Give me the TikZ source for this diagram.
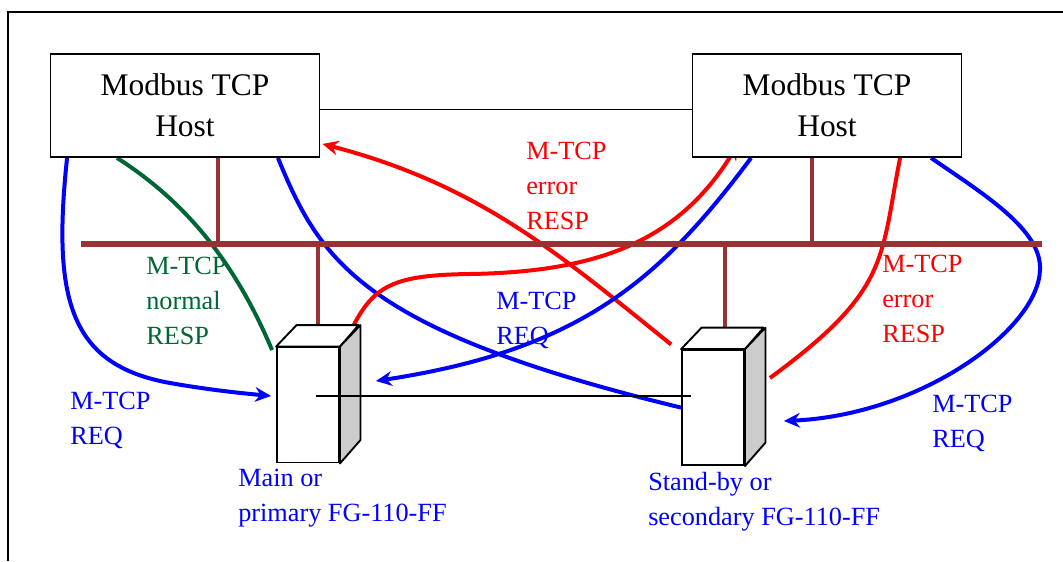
\documentclass[tikz,border=0pt]{standalone}
\usepackage{fontspec}
\setmainfont{Liberation Serif}
\usetikzlibrary{arrows.meta,calc}
\definecolor{busbrown}{RGB}{153,51,51}
\definecolor{respgreen}{RGB}{0,102,51}
\definecolor{sidegray}{RGB}{204,204,204}
\pgfdeclarelayer{back}
\pgfsetlayers{back,main}

\begin{document}
\begin{tikzpicture}[x=0.75pt,y=-0.75pt,
  >={Stealth[length=12pt,width=11pt,inset=4pt]},
  host/.style={draw,line width=1.4pt,fill=white,minimum width=201.75pt,minimum height=77.25pt,inner sep=0pt,align=center,font=\fontsize{23.6}{31}\selectfont},
  front/.style={draw,line width=1.4pt,fill=white,minimum width=46.5pt,minimum height=86.25pt,inner sep=0pt},
  face/.style={draw,line width=1.4pt,line join=round},
  bus/.style={busbrown,line width=4.2pt},
  drop/.style={busbrown,line width=2.6pt},
  msg/.style={line width=3pt},
  lbl/.style={anchor=north west,inner sep=0pt,align=left,font=\fontsize{19.7}{26.25}\selectfont}]

\useasboundingbox (0,0) rectangle (1063,561);
% frame
\draw[line width=1.1pt] (8,561) -- (8,12) -- (1063,12);

% bus
\coordinate (busL) at (81,244);
\coordinate (busR) at (1042,244);
\coordinate (tapA) at (218,244);
\coordinate (tapB) at (812,244);
\coordinate (tapC) at (318,244);
\coordinate (tapD) at (725,244);

% hosts
\node[host] (hostA) at (185,105.5) {Modbus TCP\\Host};
\node[host] (hostB) at (827,105.5) {Modbus TCP\\Host};
\draw[line width=1.1pt] ([yshift=-3pt]hostA.east) -- ([yshift=-3pt]hostB.west);

% gateways
\node[front] (devA) at (308,405) {};
\node[front] (devB) at (713,407.6) {};

% drops
\draw[drop] (hostA.south -| tapA) -- (tapA);
\draw[drop] (hostB.south -| tapB) -- (tapB);
\draw[drop] (tapC) -- (devA.north -| tapC);
\draw[drop] (tapD) -- (devB.north -| tapD);
\draw[bus] (busL) -- (busR);

\foreach \d in {devA,devB} {
  \draw[face,fill=white] (\d.north west) -- ++(20.5,-21.5) -- ++(62,0) -- (\d.north east) -- cycle;
  \draw[face,fill=sidegray] (\d.north east) -- ++(20.5,-21.5) -- ++(0,115) -- (\d.south east) -- cycle;
}
\draw[line width=1.1pt] ($(devA.center)+(8,-9)$) -- ($(devB.west)+(9.5,-11.6)$);

% messages
\begin{pgfonlayer}{back}
\draw[msg,blue,->] ($(hostA.south west)+(17.5,0)$) .. controls (52,300) and (70,365) .. (170,383) .. controls (210,390) and (240,393) .. ($(devA.west)+(-5,-9)$);
\draw[msg,respgreen] ($(hostA.south west)+(67.5,0)$) .. controls (175,195) and (230,250) .. ($(devA.north west)+(-4,3.5)$);
\draw[msg,blue] ($(hostA.south east)+(-42.5,0)$) .. controls (320,260) and (360,330) .. (devB.west);
\draw[msg,red,->] ($(devB.north west)+(-10,-4.7)$) .. controls (560,255) and (480,185) .. ($(hostA.south east)+(2,-14)$);
\draw[msg,red,->] ($(devA.north east)+(14,-22)$) .. controls (375,285) and (395,275) .. (470,274) .. controls (600,272) and (680,240) .. ($(hostB.south west)+(46.5,-14)$);
\draw[msg,blue,->] ($(hostB.south west)+(59.5,0)$) .. controls (660,280) and (580,350) .. ($(devA.east)+(36,-24)$);
\draw[msg,red] ($(hostB.south west)+(208.5,0)$) .. controls (880,260) and (890,290) .. ($(devB.east)+(25,-29.6)$);
\draw[msg,blue,->] ($(hostB.south west)+(239.5,0)$) .. controls (985,195) and (1042,230) .. (1040,270) .. controls (1038,330) and (920,415) .. ($(devB.east)+(39,13.4)$);
\end{pgfonlayer}

% labels
\node[lbl,respgreen] (normalA) at (146,257.2) {M-TCP\\normal\\RESP};
\node[lbl,blue] (reqA) at (70,391.7) {M-TCP\\REQ};
\node[lbl,red] (errA) at (526,142.2) {M-TCP\\error\\RESP};
\node[lbl,blue] (reqB) at (496,292.2) {M-TCP\\REQ};
\node[lbl,red] (errB) at (882,255.2) {M-TCP\\error\\RESP};
\node[lbl,blue] (reqC) at (932,395.2) {M-TCP\\REQ};
\node[lbl,blue] (mainlbl) at (238,468.6) {Main or\\primary FG-110-FF};
\node[lbl,blue] (sbylbl) at (648,472) {Stand-by or\\secondary FG-110-FF};
\end{tikzpicture}
\end{document}
